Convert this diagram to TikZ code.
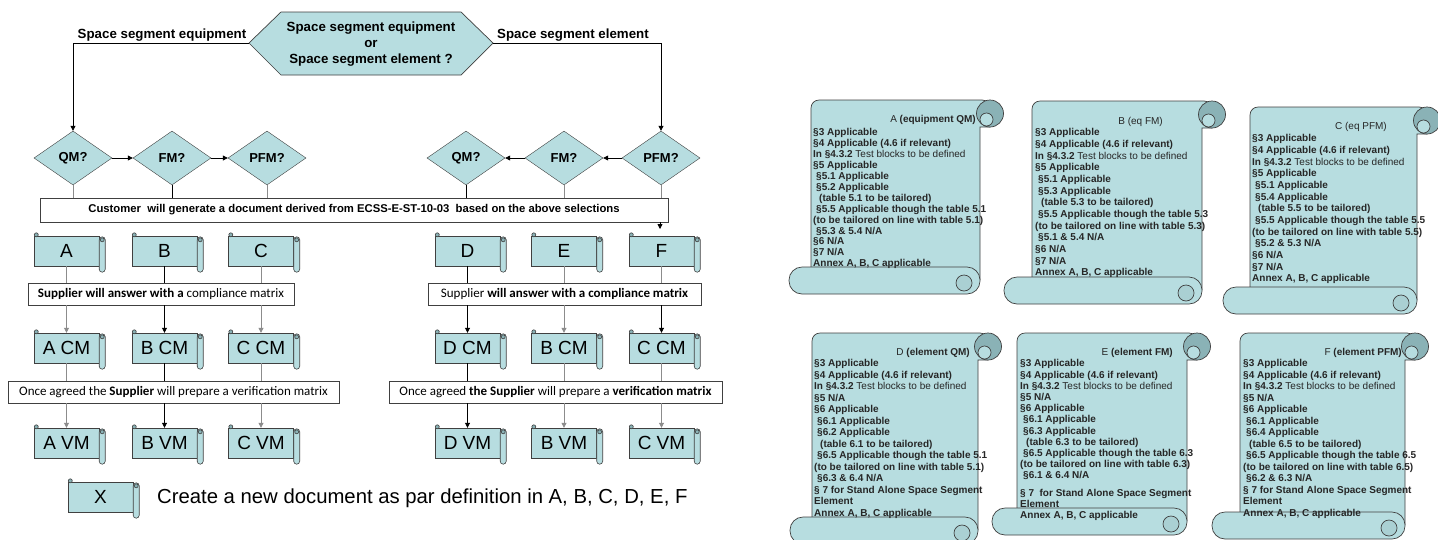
\documentclass[tikz,border=0pt]{standalone}
\usepackage{fontspec}
\setmainfont{Liberation Sans}
\newfontfamily\calibrifont{Carlito}
\usetikzlibrary{arrows.meta,shapes.geometric,positioning}

\definecolor{scrollfill}{RGB}{183,221,224}
\definecolor{curlfill}{RGB}{138,178,182}
\definecolor{edgegray}{RGB}{64,64,64}
\definecolor{linegray}{RGB}{140,140,140}

\tikzset{
  decision/.style={diamond, draw=edgegray, fill=scrollfill, aspect=1.45, minimum width=78pt, minimum height=54pt, inner sep=0pt, font=\fontsize{13}{13}\selectfont\bfseries},
  notebox/.style={draw=edgegray, fill=white, inner sep=0pt, font=\calibrifont\fontsize{13}{13}\selectfont},
  docbody/.style={draw=edgegray, fill=scrollfill, minimum width=65pt, minimum height=30pt, inner sep=0pt, font=\fontsize{19}{19}\selectfont},
  docroll/.style={draw=edgegray, fill=scrollfill, line width=0.6pt},
  flow/.style={draw=linegray, line width=0.8pt},
  flowdark/.style={draw=black, line width=0.8pt},
  arrowed/.style={-{Triangle[length=5pt,width=5pt]}},
  scrolledge/.style={draw=edgegray, line width=0.7pt},
  spectext/.style={anchor=north west, inner sep=0pt, align=left, text=black!85, font=\fontsize{10}{11.6}\selectfont\bfseries},
  spectitle/.style={anchor=east, inner sep=0pt, text=black!85, font=\fontsize{10}{11.6}\selectfont},
}

% small scroll: name, x, y, label
\newcommand\docscroll[4]{%
  \node[docbody] (#1) at (#2,#3) {#4};
  \draw[docroll, rounded corners=3pt] ([yshift=-1pt]#1.north east) rectangle ([xshift=6pt,yshift=-6pt]#1.south east);
  \draw[docroll, fill=curlfill] ([xshift=3pt,yshift=-4pt]#1.north east) circle[radius=2pt];
  \draw[docroll, fill=curlfill] ([xshift=2.5pt,yshift=1pt]#1.north west) circle[radius=2pt];
}

% big scroll: left, top, right, bottom, band left
\newcommand\specscroll[5]{%
  \draw[scrolledge, fill=scrollfill, rounded corners=8pt] (#1,#4-14) -- (#1,#2) -- (#3+10,#2) [sharp corners] -- (#3+10,#2+27) -- (#3,#2+27) -- (#3,#4-14);
  \draw[scrolledge, fill=curlfill] (#3+10,#2+13.5) circle[radius=13.5pt];
  \draw[scrolledge, fill=scrollfill] (#3+6.5,#2+19.5) circle[radius=6.5pt];
  \draw[scrolledge, fill=scrollfill, rounded corners=13pt] (#5,#4-27) rectangle (#3,#4);
  \draw[scrolledge, fill=scrollfill!70!curlfill] (#3-16,#4-11) circle[radius=8pt];
}

\begin{document}
\begin{tikzpicture}[x=1pt, y=-1pt]
    \fill[white] (0,0) rectangle (1438,539);
    \useasboundingbox (0,0) rectangle (1438,539);

    % choice
    \draw[scrolledge, fill=scrollfill] (249,43) -- (281,12) -- (461,12) -- (493,43) -- (461,75) -- (281,75) -- cycle;
    \coordinate (hexL) at (249,43);
    \coordinate (hexR) at (493,43);
    \node[align=center, font=\fontsize{13.3}{16}\selectfont\bfseries] (hex) at (371,44) {Space segment equipment\\or\\Space segment element ?};
    \node[font=\fontsize{13.3}{13}\selectfont\bfseries] (equipLabel) at (162,35) {Space segment equipment};
    \node[font=\fontsize{13.3}{13}\selectfont\bfseries] (elemLabel) at (573,35) {Space segment element};

    \node[decision] (qmL) at (73,158) {QM?};
    \node[decision] (fmL) at (172,158) {FM?};
    \node[decision] (pfmL) at (267,158) {PFM?};
    \node[decision] (qmR) at (466,158) {QM?};
    \node[decision] (fmR) at (564,158) {FM?};
    \node[decision] (pfmR) at (661,158) {PFM?};

    \draw[flowdark, arrowed] (hexL) -| (qmL);
    \draw[flowdark, arrowed] (hexR) -| (pfmR);
    \draw[flowdark, arrowed] (qmL) -- (fmL);
    \draw[flowdark, arrowed] (fmL) -- (pfmL);
    \draw[flowdark, arrowed] (pfmR) -- (fmR);
    \draw[flowdark, arrowed] (fmR) -- (qmR);

    \node[notebox, font=\fontsize{11.3}{11.3}\selectfont\bfseries, minimum width=628pt, minimum height=24pt] (select) at (354,210) {Customer\ \ will generate a document derived from ECSS-E-ST-10-03\ \ based on the above selections};
    \coordinate (selectStub) at (660,229);

    \draw[flow] (qmL) -- (qmL |- select.north);
    \draw[flowdark] (fmL) -- (fmL |- select.north);
    \draw[flow] (pfmL) -- (pfmL |- select.north);
    \draw[flowdark] (qmR) -- (qmR |- select.north);
    \draw[flow] (fmR) -- (fmR |- select.north);
    \draw[flow] (pfmR) -- (pfmR |- select.north);
    \draw[flowdark, arrowed] (select.south -| selectStub) -- (selectStub);

    % documents
    \docscroll{docA}{66.5}{251}{A}
    \docscroll{docB}{164.5}{251}{B}
    \docscroll{docC}{261}{251}{C}
    \docscroll{docD}{467.5}{251}{D}
    \docscroll{docE}{564}{251}{E}
    \docscroll{docF}{661.5}{251}{F}

    \node[notebox, minimum width=266pt, minimum height=22pt] (askL) at (161,294) {\textbf{Supplier will answer with a} compliance matrix};
    \node[notebox, minimum width=273pt, minimum height=22pt] (askR) at (564.5,294) {Supplier \textbf{will answer with a compliance matrix}};

    \docscroll{cmA}{66.5}{348}{A CM}
    \docscroll{cmB}{164.5}{348}{B CM}
    \docscroll{cmC}{261}{348}{C CM}
    \docscroll{cmD}{467.5}{348}{D CM}
    \docscroll{cmE}{564}{348}{B CM}
    \docscroll{cmF}{661.5}{348}{C CM}

    \node[notebox, minimum width=331pt, minimum height=22pt] (agreeL) at (173.5,392) {Once agreed the \textbf{Supplier} will prepare a verification matrix};
    \node[notebox, minimum width=333pt, minimum height=22pt] (agreeR) at (555.5,392) {Once agreed \textbf{the Supplier} will prepare a \textbf{verification matrix}};

    \docscroll{vmA}{66.5}{443}{A VM}
    \docscroll{vmB}{164.5}{443}{B VM}
    \docscroll{vmC}{261}{443}{C VM}
    \docscroll{vmD}{467.5}{443}{D VM}
    \docscroll{vmE}{564}{443}{B VM}
    \docscroll{vmF}{661.5}{443}{C VM}

    \draw[flow] (docA) -- (docA |- askL.north);
    \draw[flowdark] (docB) -- (docB |- askL.north);
    \draw[flow] (docC) -- (docC |- askL.north);
    \draw[flowdark] (docD) -- (docD |- askR.north);
    \draw[flow] (docE) -- (docE |- askR.north);
    \draw[flow] (docF) -- (docF |- askR.north);

    \draw[flow, arrowed] (askL.south -| cmA) -- (cmA);
    \draw[flowdark, arrowed] (askL.south -| cmB) -- (cmB);
    \draw[flow, arrowed] (askL.south -| cmC) -- (cmC);
    \draw[flowdark, arrowed] (askR.south -| cmD) -- (cmD);
    \draw[flow, arrowed] (askR.south -| cmE) -- (cmE);
    \draw[flowdark, arrowed] (askR.south -| cmF) -- (cmF);

    \draw[flow] (cmA) -- (cmA |- agreeL.north);
    \draw[flowdark] (cmB) -- (cmB |- agreeL.north);
    \draw[flow] (cmC) -- (cmC |- agreeL.north);
    \draw[flowdark] (cmD) -- (cmD |- agreeR.north);
    \draw[flow] (cmE) -- (cmE |- agreeR.north);
    \draw[flow] (cmF) -- (cmF |- agreeR.north);

    \draw[flow, arrowed] (agreeL.south -| vmA) -- (vmA);
    \draw[flowdark, arrowed] (agreeL.south -| vmB) -- (vmB);
    \draw[flow, arrowed] (agreeL.south -| vmC) -- (vmC);
    \draw[flowdark, arrowed] (agreeR.south -| vmD) -- (vmD);
    \draw[flow, arrowed] (agreeR.south -| vmE) -- (vmE);
    \draw[flow, arrowed] (agreeR.south -| vmF) -- (vmF);

    \docscroll{docX}{100.5}{497}{X}
    \node[anchor=west, inner sep=0pt, font=\fontsize{20.3}{20.3}\selectfont] (legend) at (157,498) {Create a new document as par definition in A, B, C, D, E, F};

    % specifications
    \specscroll{811}{100}{980}{294}{789}
    \node[spectitle] (titleA) at (976,120) {A \textbf{(equipment QM)}};
    \node[spectext, font=\fontsize{10}{10.9}\selectfont\bfseries] (specA) at (813,128.5) {§3 Applicable\\
        §4 Applicable (4.6 if relevant)\\
        In §4.3.2 {\mdseries Test blocks to be defined}\\
        §5 Applicable\\
        \hspace*{3pt}§5.1 Applicable\\
        \hspace*{3pt}§5.2 Applicable\\
        \hspace*{6pt}(table 5.1 to be tailored)\\
        \hspace*{3pt}§5.5 Applicable though the table 5.1\\
        (to be tailored on line with table 5.1)\\
        \hspace*{3pt}§5.3 \& 5.4 N/A\\
        §6 N/A\\
        §7 N/A\\
        Annex A, B, C applicable};

    \specscroll{1032}{101}{1202}{304}{1004}
    \node[spectitle] (titleB) at (1163,122) {B (eq FM)};
    \node[spectext, font=\fontsize{10}{11.65}\selectfont\bfseries] (specB) at (1035,128.5) {§3 Applicable\\
        §4 Applicable (4.6 if relevant)\\
        In §4.3.2 {\mdseries Test blocks to be defined}\\
        §5 Applicable\\
        \hspace*{3pt}§5.1 Applicable\\
        \hspace*{3pt}§5.3 Applicable\\
        \hspace*{6pt}(table 5.3 to be tailored)\\
        \hspace*{3pt}§5.5 Applicable though the table 5.3\\
        (to be tailored on line with table 5.3)\\
        \hspace*{3pt}§5.1 \& 5.4 N/A\\
        §6 N/A\\
        §7 N/A\\
        Annex A, B, C applicable};

    \specscroll{1250}{107}{1417}{314}{1223}
    \node[spectitle] (titleC) at (1387,127) {C (eq PFM)};
    \node[spectext, font=\fontsize{10}{11.65}\selectfont\bfseries] (specC) at (1252,134.5) {§3 Applicable\\
        §4 Applicable (4.6 if relevant)\\
        In §4.3.2 {\mdseries Test blocks to be defined}\\
        §5 Applicable\\
        \hspace*{3pt}§5.1 Applicable\\
        \hspace*{3pt}§5.4 Applicable\\
        \hspace*{6pt}(table 5.5 to be tailored)\\
        \hspace*{3pt}§5.5 Applicable though the table 5.5\\
        (to be tailored on line with table 5.5)\\
        \hspace*{3pt}§5.2 \& 5.3 N/A\\
        §6 N/A\\
        §7 N/A\\
        Annex A, B, C applicable};

    \specscroll{812}{333}{978}{544}{790}
    \node[spectitle] (titleD) at (970,353) {D \textbf{(element QM)}};
    \node[spectext, font=\fontsize{10}{11.5}\selectfont\bfseries] (specD) at (814,359.5) {§3 Applicable\\
        §4 Applicable (4.6 if relevant)\\
        In §4.3.2 {\mdseries Test blocks to be defined}\\
        §5 N/A\\
        §6 Applicable\\
        \hspace*{3pt}§6.1 Applicable\\
        \hspace*{3pt}§6.2 Applicable\\
        \hspace*{6pt}(table 6.1 to be tailored)\\
        \hspace*{3pt}§6.5 Applicable though the table 5.1\\
        (to be tailored on line with table 5.1)\\
        \hspace*{3pt}§6.3 \& 6.4 N/A\\
        § 7 for Stand Alone Space Segment\\
        Element\\
        Annex A, B, C applicable};

    \specscroll{1017}{333}{1187}{535}{992}
    \node[spectitle] (titleE) at (1173,353) {E \textbf{(element FM)}};
    \node[spectext, font=\fontsize{10}{11.2}\selectfont\bfseries] (specE) at (1020,359.5) {§3 Applicable\\
        §4 Applicable (4.6 if relevant)\\
        In §4.3.2 {\mdseries Test blocks to be defined}\\
        §5 N/A\\
        §6 Applicable\\
        \hspace*{3pt}§6.1 Applicable\\
        \hspace*{3pt}§6.3 Applicable\\
        \hspace*{6pt}(table 6.3 to be tailored)\\
        \hspace*{3pt}§6.5 Applicable though the table 6.3\\
        (to be tailored on line with table 6.3)\\
        \hspace*{3pt}§6.1 \& 6.4 N/A\\[6pt]
        § 7\ \ for Stand Alone Space Segment\\
        Element\\
        Annex A, B, C applicable};

    \specscroll{1240}{333}{1405}{539}{1212}
    \node[spectitle] (titleF) at (1402,353) {F \textbf{(element PFM)}};
    \node[spectext, font=\fontsize{10}{11.5}\selectfont\bfseries] (specF) at (1243,359.5) {§3 Applicable\\
        §4 Applicable (4.6 if relevant)\\
        In §4.3.2 {\mdseries Test blocks to be defined}\\
        §5 N/A\\
        §6 Applicable\\
        \hspace*{3pt}§6.1 Applicable\\
        \hspace*{3pt}§6.4 Applicable\\
        \hspace*{6pt}(table 6.5 to be tailored)\\
        \hspace*{3pt}§6.5 Applicable though the table 6.5\\
        (to be tailored on line with table 6.5)\\
        \hspace*{3pt}§6.2 \& 6.3 N/A\\
        § 7 for Stand Alone Space Segment\\
        Element\\
        Annex A, B, C applicable};
\end{tikzpicture}
\end{document}
